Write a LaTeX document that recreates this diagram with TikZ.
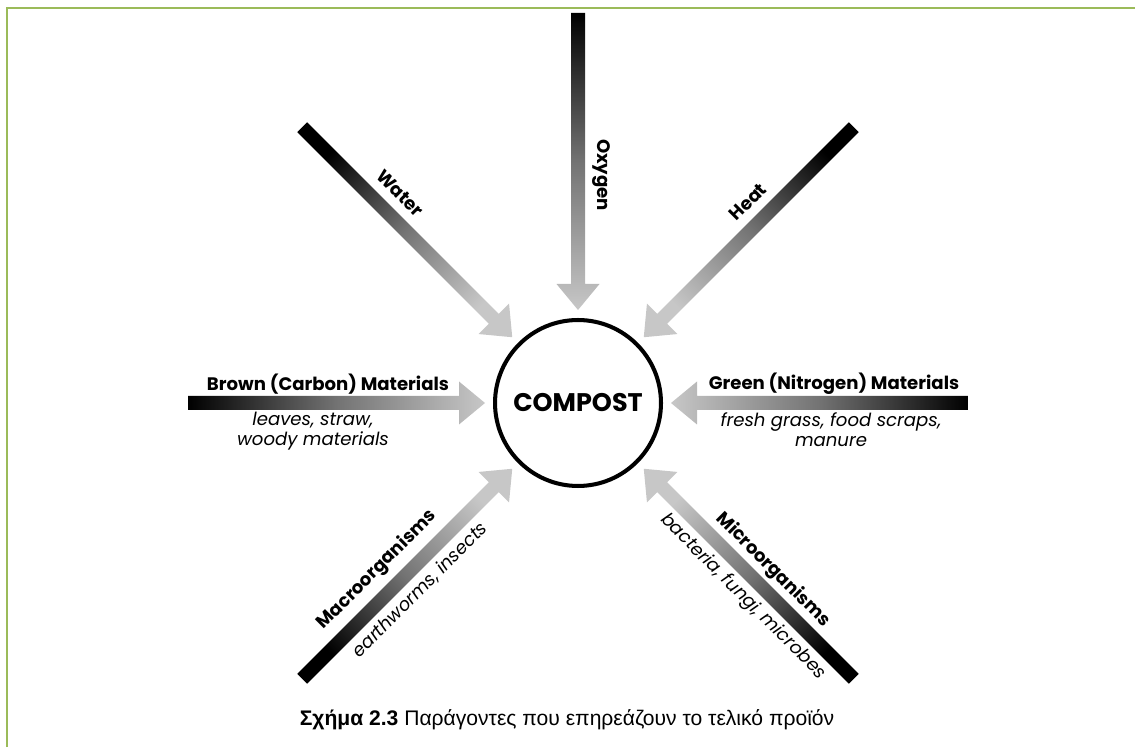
\documentclass[tikz,border=0pt]{standalone}
\usepackage{fontspec}
\setmainfont{Liberation Sans}
\newfontfamily\gothic{Poppins}
\usepackage{tikz}
\usetikzlibrary{shapes, positioning}
\definecolor{framegreen}{HTML}{9BBB59}

\begin{document}
\begin{tikzpicture}
[x=0.02cm, y=0.02cm,
hub/.style={circle, draw=black, line width=2.3pt, minimum size=3.32cm, font=\gothic\bfseries\fontsize{14.5}{16}\selectfont},
factor/.style={font=\gothic\bfseries\fontsize{10.3}{12}\selectfont, inner sep=0pt},
detail/.style={font=\gothic\itshape\fontsize{10.3}{11.5}\selectfont, align=center, inner sep=0pt},
feed/.style={top color=black, bottom color=black!22, middle color=black!55, shading angle=#1},
fatarrow/.pic={\shade[feed=#1] (93,0) -- (119,21.5) -- (119,7) -- (390,7) -- (390,-7) -- (119,-7) -- (119,-21.5) -- cycle;},
frame/.style={draw=framegreen, line width=1.1pt},
caption/.style={font=\fontsize{12}{14}\selectfont}]
\useasboundingbox (0,0) rectangle (1135,747);
\draw [frame] (7,0) -- (7,739) -- (1135,739);

\node (compost) [hub] at (578,344) {COMPOST};

% arrows into the heap
\pic [rotate=90] at (compost.center) {fatarrow=0};
\pic [rotate=135] at (compost.center) {fatarrow=45};
\pic [rotate=45] at (compost.center) {fatarrow=-45};
\pic [rotate=180] at (compost.center) {fatarrow=90};
\pic [rotate=0] at (compost.center) {fatarrow=-90};
\pic [rotate=225] at (compost.center) {fatarrow=135};
\pic [rotate=315] at (compost.center) {fatarrow=225};

\node (oxygen) [factor, rotate=-90] at (601,572) {Oxygen};
\node (water) [factor, rotate=-45] at (400,554) {Water};
\node (heat) [factor, rotate=45] at (748,545) {Heat};
\node (brown) [factor] at (328,363) {Brown (Carbon) Materials};
\node (browndetail) [detail] at (313,316) {leaves, straw,\\woody materials};
\node (green) [factor] at (834,363) {Green (Nitrogen) Materials};
\node (greendetail) [detail] at (831,317) {fresh grass, food scraps,\\manure};
\node (macro) [factor, rotate=45] at (377,177) {Macroorganisms};
\node (macrodetail) [detail, rotate=45] at (420,157) {earthworms, insects};
\node (micro) [factor, rotate=-45] at (773,177) {Microorganisms};
\node (microdetail) [detail, rotate=-45] at (743,150) {bacteria, fungi, microbes};

\node (caption) [caption] at (567,27) {\textbf{Σχήμα 2.3} Παράγοντες που επηρεάζουν το τελικό προϊόν};

\end{tikzpicture}
\end{document}
